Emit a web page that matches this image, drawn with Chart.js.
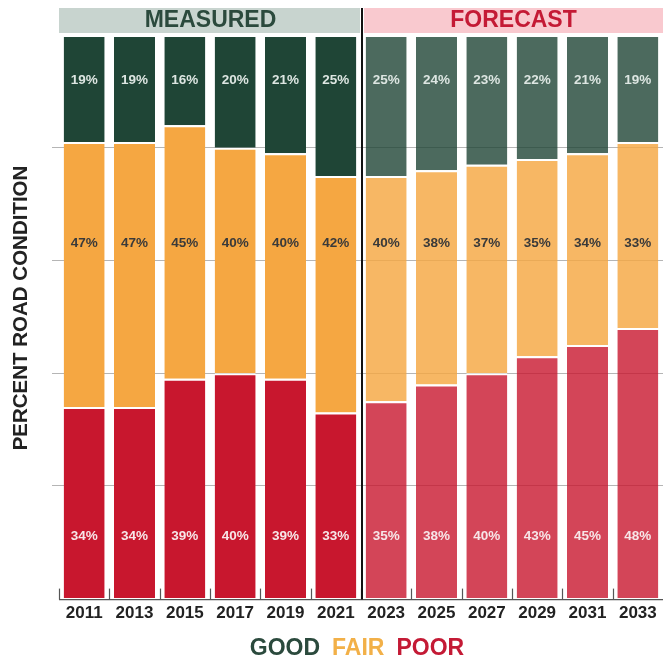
<!DOCTYPE html>
<html>
<head>
<meta charset="utf-8">
<script src="https://cdn.jsdelivr.net/npm/chart.js@4.4.1/dist/chart.umd.min.js"></script>
<style>
html,body{margin:0;padding:0;background:#fff;}
#wrap{width:663px;height:660px;position:relative;}
</style>
</head>
<body>
<div id="wrap"><canvas id="c" width="663" height="660"></canvas></div>
<script>
const years = ['2011','2013','2015','2017','2019','2021','2023','2025','2027','2029','2031','2033'];
const measuredCount = 6;
const goodPct = [19,19,16,20,21,25,25,24,23,22,21,19];
const fairPct = [47,47,45,40,40,42,40,38,37,35,34,33];
const poorPct = [34,34,39,40,39,33,35,38,40,43,45,48];
const yGridValues = [20,40,60,80];
const labelLevels = {good:92, fair:63, poor:11};

const colMeasured = {good:'#1f4536', fair:'#f5a742', poor:'#c8172e'};
const colForecast = {good:'rgba(31,69,54,0.8)', fair:'rgba(245,167,66,0.82)', poor:'rgba(200,23,46,0.8)'};
function colors(key){ return years.map((y,i)=> i<measuredCount ? colMeasured[key] : colForecast[key]); }

const labelColors = {good:'#dde6e2', fair:'#3a3a3a', poor:'#f7e6e8'};
const FONT = '"Liberation Sans", Arial, sans-serif';

const overlay = {
  id:'overlay',
  afterDatasetsDraw(chart){
    const ctx = chart.ctx;
    const x = chart.scales.x, y = chart.scales.y;
    const ca = chart.chartArea;
    ctx.save();
    // bar value labels
    ctx.font = 'bold 13.5px ' + FONT;
    ctx.textAlign = 'center';
    ctx.textBaseline = 'middle';
    const sets = [['poor',poorPct],['fair',fairPct],['good',goodPct]];
    sets.forEach(([k,arr])=>{
      ctx.fillStyle = labelColors[k];
      arr.forEach((v,i)=>{
        ctx.fillText(v+'%', x.getPixelForValue(i), y.getPixelForValue(labelLevels[k]));
      });
    });
    // x axis ticks at category boundaries (upward)
    ctx.strokeStyle = '#555';
    ctx.lineWidth = 1.2;
    const step = x.getPixelForValue(1)-x.getPixelForValue(0);
    for(let i=0;i<years.length;i++){
      const bx = Math.round(x.getPixelForValue(i) - step/2)+0.5;
      ctx.beginPath(); ctx.moveTo(bx, ca.bottom-10); ctx.lineTo(bx, ca.bottom+1); ctx.stroke();
    }
    ctx.beginPath(); ctx.moveTo(ca.left, ca.bottom+1); ctx.lineTo(ca.right, ca.bottom+1); ctx.stroke();
    // header bands
    const divX = x.getPixelForValue(measuredCount-1) + step/2 + 1;
    ctx.fillStyle = '#c8d4cf';
    ctx.fillRect(ca.left, 8, divX-ca.left-2, 25);
    ctx.fillStyle = '#f9c9cf';
    ctx.fillRect(divX+2, 8, ca.right-divX-2, 25);
    ctx.font = 'bold 23px ' + FONT;
    ctx.fillStyle = '#2b4a3d';
    ctx.fillText('MEASURED', (ca.left+divX)/2, 21);
    ctx.fillStyle = '#c41a35';
    ctx.fillText('FORECAST', (divX+ca.right)/2+1, 21);
    // divider
    ctx.strokeStyle = '#111';
    ctx.lineWidth = 2;
    ctx.beginPath(); ctx.moveTo(divX, 8); ctx.lineTo(divX, ca.bottom+1); ctx.stroke();
    // y title
    ctx.save();
    ctx.translate(21, 308);
    ctx.rotate(-Math.PI/2);
    ctx.font = 'bold 20.5px ' + FONT;
    ctx.fillStyle = '#222';
    ctx.fillText('PERCENT ROAD CONDITION', 0, 0);
    ctx.restore();
    // legend
    ctx.font = 'bold 23px ' + FONT;
    ctx.textAlign = 'left';
    const items = [['GOOD','#2b4a3d'],['FAIR','#f2b048'],['POOR','#c41a35']];
    const gap = 12;
    let total = 0;
    items.forEach(([t])=> total += ctx.measureText(t).width);
    total += gap*(items.length-1);
    let lx = 357 - total/2;
    items.forEach(([t,c])=>{
      ctx.fillStyle = c;
      ctx.fillText(t, lx, 649);
      lx += ctx.measureText(t).width + gap;
    });
    ctx.restore();
  }
};

const border = {top:2,left:0,right:0,bottom:0};
new Chart(document.getElementById('c'), {
  type:'bar',
  data:{
    labels: years,
    datasets:[
      {label:'POOR', data:poorPct, backgroundColor:colors('poor'), borderColor:'#fff', borderWidth:border, borderSkipped:false},
      {label:'FAIR', data:fairPct, backgroundColor:colors('fair'), borderColor:'#fff', borderWidth:border, borderSkipped:false},
      {label:'GOOD', data:goodPct, backgroundColor:colors('good'), borderColor:'#fff', borderWidth:border, borderSkipped:false}
    ]
  },
  options:{
    responsive:false,
    animation:false,
    layout:{padding:{left:52, right:0, top:35, bottom:39}},
    datasets:{bar:{categoryPercentage:0.9, barPercentage:0.905}},
    plugins:{legend:{display:false}, tooltip:{enabled:false}},
    scales:{
      x:{
        stacked:true,
        grid:{display:false},
        border:{display:false},
        ticks:{font:{family:FONT, size:17, weight:'bold'}, color:'#222', padding:-3, maxRotation:0, autoSkip:false}
      },
      y:{
        stacked:true,
        min:0, max:100,
        afterBuildTicks(axis){ axis.ticks = [0].concat(yGridValues).concat([100]).map(v=>({value:v})); },
        ticks:{display:false},
        border:{display:false},
        grid:{
          color:(c)=> (c.tick && (c.tick.value===0 || c.tick.value===100)) ? 'rgba(0,0,0,0)' : 'rgba(120,120,120,0.55)',
          lineWidth:1, drawTicks:true, tickLength:7
        }
      }
    }
  },
  plugins:[overlay]
});
</script>
</body>
</html>
